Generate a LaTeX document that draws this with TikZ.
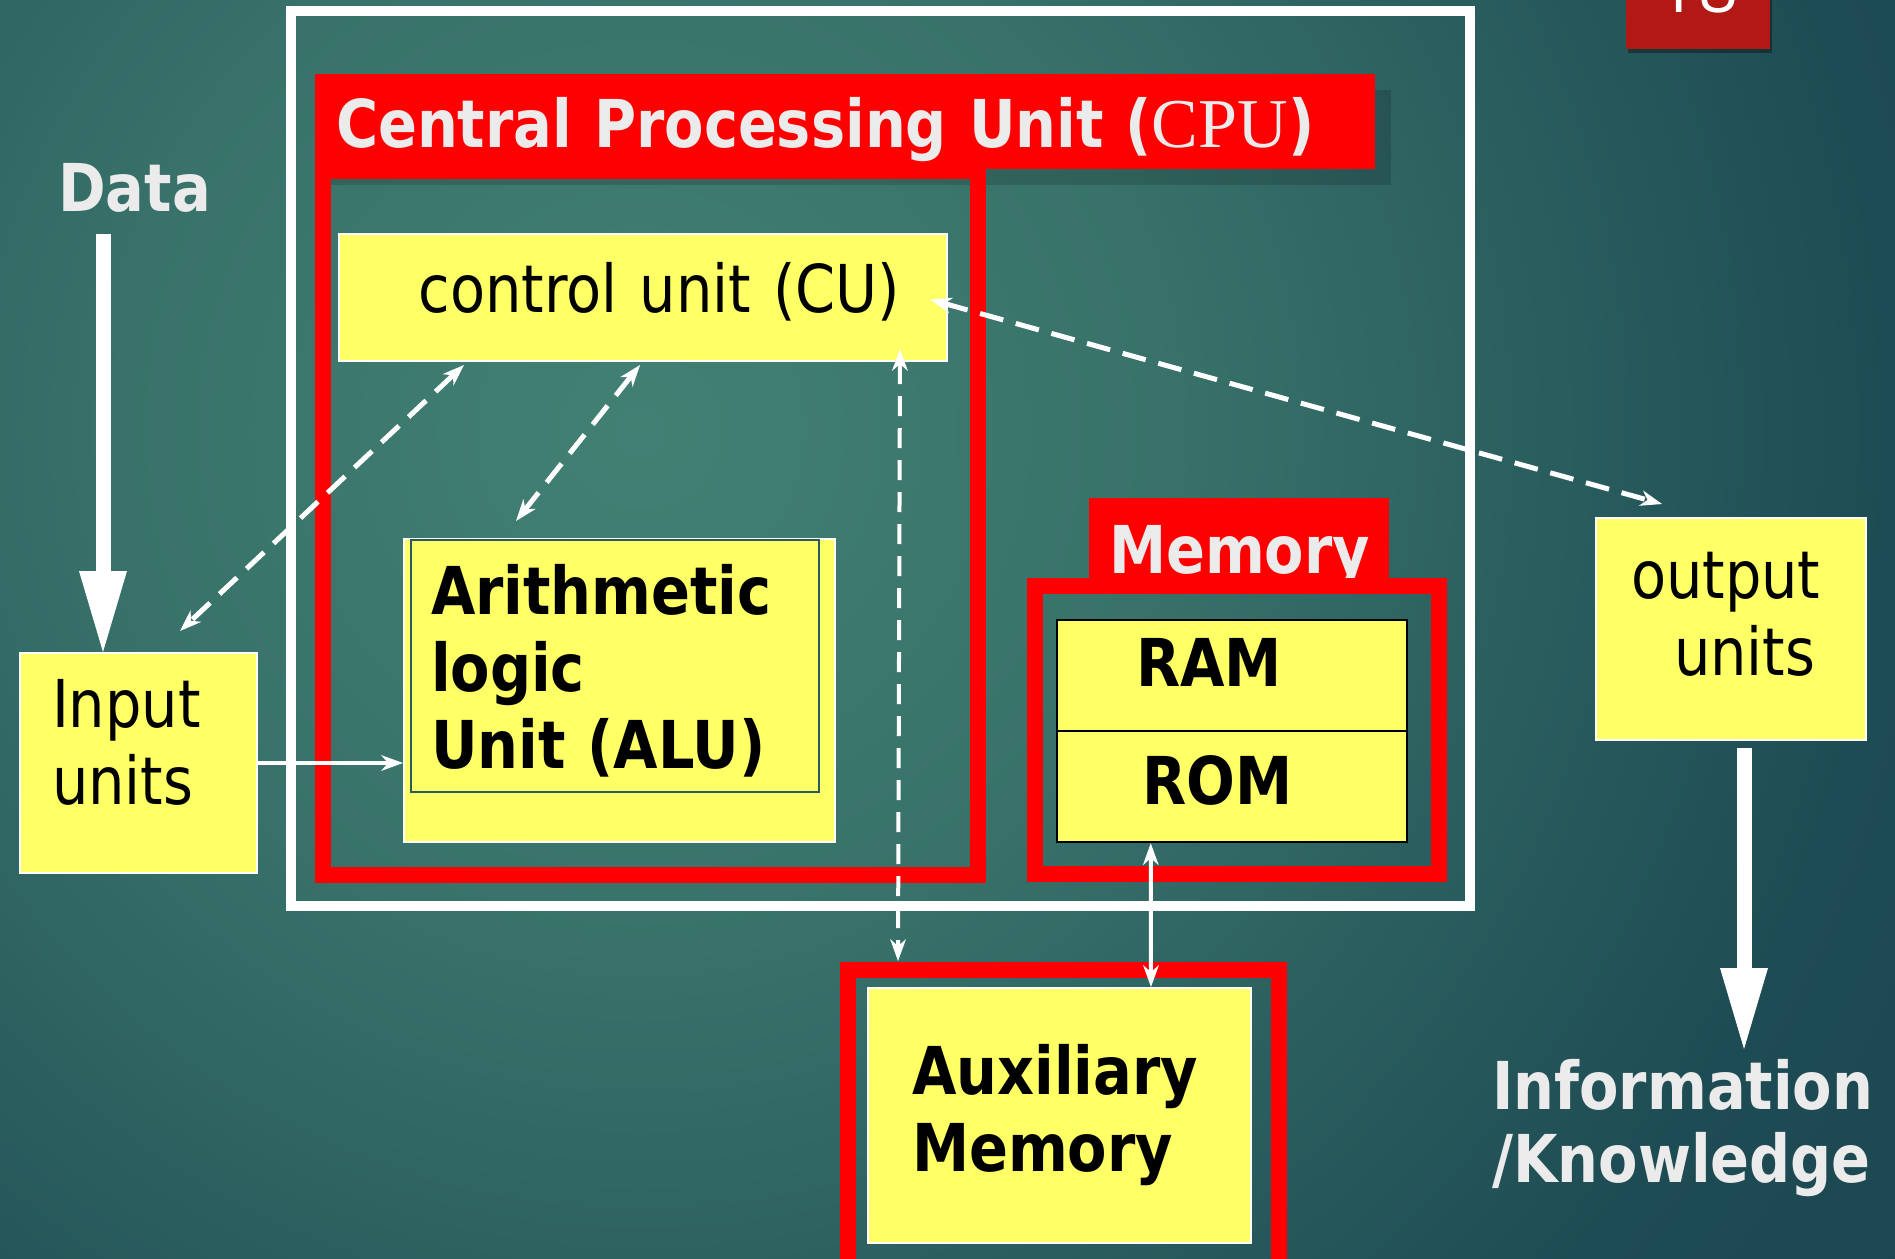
\documentclass[tikz,border=0pt]{standalone}
\usepackage{fontspec}
\setmainfont{DejaVu Sans}[FakeStretch=0.87]
\newfontfamily\cpufont{Liberation Serif}
\newfontfamily\pagefont{Open Sans}
\usetikzlibrary{arrows.meta,calc,shadows}
\definecolor{boxyellow}{RGB}{255, 255, 102}
\definecolor{cpured}{RGB}{255, 0, 0}
\definecolor{pagered}{RGB}{178, 24, 20}
\definecolor{titlegrey}{RGB}{235, 235, 235}
\definecolor{aluline}{RGB}{40, 90, 95}
\definecolor{tealA}{RGB}{66, 128, 116}
\definecolor{tealB}{RGB}{56, 114, 106}
\definecolor{tealC}{RGB}{30, 76, 84}
\definecolor{tealD}{RGB}{17, 52, 67}
\definecolor{tealE}{RGB}{14, 46, 60}
\pgfdeclareradialshading{slide}{\pgfpointorigin}{color(0bp)=(tealA); color(5bp)=(tealB); color(12bp)=(tealC); color(25bp)=(tealD); color(50bp)=(tealE)}
% slide text size with a narrower word space
\newcommand\slidesize[1]{\fontsize{66}{#1}\selectfont\fontdimen2\font=12.5pt\relax}

\begin{document}
\begin{tikzpicture}[x=1pt, y=-1pt,
  font=\slidesize{77},
  >={Stealth[length=22pt, width=16pt, inset=7pt, line width=0pt]},
  box/.style={draw=white, line width=2pt, fill=boxyellow, inner ysep=0pt, text height=60pt, align=left},
  bold box/.style={box, font=\bfseries\slidesize{77}},
  banner/.style={fill=cpured, text=titlegrey, inner ysep=0pt, text height=60pt, align=left, font=\bfseries\slidesize{77}},
  cell/.style={bold box, draw=black, line width=2.5pt, minimum width=350pt, minimum height=111pt},
  redframe/.style={draw=cpured, line width=16pt},
  bigarrow/.style={draw=white, line width=15pt, -{Triangle[length=81pt, width=48pt, line width=0pt]}},
  link/.style={draw=white, line width=4pt},
  dashlink/.style={link, line width=5pt, dash pattern=on 24pt off 13pt},
  title/.style={text=titlegrey, inner sep=0pt, font=\bfseries\slidesize{73}}]
\useasboundingbox (0,0) rectangle (1895,1258);

% Slide background
\begin{scope}
\clip (0,0) rectangle (1895,1258);
\shade[shading=slide] (640,430) circle [radius=2600pt];
\end{scope}

% Page number
\node[fill=pagered, text=white, font=\fontsize{70}{80}\pagefont, minimum width=144pt, inner ysep=36pt,
  text height=60pt, text depth=0pt, anchor=south,
  drop shadow={opacity=.35, shadow xshift=2pt, shadow yshift=-4pt, fill=black}] (page) at (1698,49) {18};

% Computer frame
\draw[white, line width=10pt] (291,11) rectangle (1470,906);

% CPU banner and frame
\node[banner, minimum width=1060pt, minimum height=95pt, text width=1018pt, inner xsep=21pt, text depth=9pt,
  drop shadow={opacity=.15, shadow xshift=16pt, shadow yshift=-16pt, fill=black}] (cpu) at (845,121.5)
  {Central Processing Unit ({\fontsize{70}{77}\cpufont\mdseries CPU})};
\draw[redframe] (323,171) rectangle (978,875);

% Memory banner and frames
\node[banner, minimum width=300pt, minimum height=96pt, text width=260pt, inner xsep=20pt, text depth=6pt] (mem) at (1239,546) {Memory};
\draw[redframe] (1035,586) rectangle (1439,874);
\draw[redframe] (848,970) rectangle (1279,1290);

% Units
\node[box, minimum width=608pt, minimum height=127pt, text width=514pt, inner xsep=47pt, align=right, text depth=31pt] (cu) at (643,297.5) {control unit (CU)};
\node[box, minimum width=431pt, minimum height=303pt] (alubox) at (619.5,690.5) {};
\node[bold box, draw=aluline, line width=1.5pt, minimum width=408pt, minimum height=252pt, text width=368pt, inner xsep=20pt, text depth=164pt] (alu) at (615,666) {Arithmetic\\logic\\Unit (ALU)};
\node[box, minimum width=237pt, minimum height=220pt, text width=173pt, inner xsep=32pt, text depth=132pt] (input) at (138.5,763) {Input\\units};
\node[box, minimum width=270pt, minimum height=222pt, text width=200pt, inner xsep=35pt, text depth=122pt] (output) at (1731,629) {output\\\hspace*{43pt}units};
\node[cell, text width=192pt, inner xsep=79pt, text depth=39pt] (ram) at (1232,675.5) {RAM};
\node[cell, text width=180pt, inner xsep=85pt, text depth=25pt] (rom) at (1232,786.5) {ROM};
\node[bold box, minimum width=383pt, minimum height=255pt, text width=295pt, inner xsep=44pt, text depth=103pt] (aux) at (1059.5,1115.5) {Auxiliary\\Memory};

% Free texts
\node[title, anchor=base west] (data) at (58,211) {Data};
\node[title, anchor=base west, text width=400pt, align=left] (info) at (1492,1109) {Information\\/Knowledge};

% Data in, information out
\coordinate (datatip) at (103,652);
\coordinate (infotip) at (1744,1049);
\draw[bigarrow, shorten <=22pt] (data.south -| datatip) -- (datatip);
\draw[bigarrow, shorten <=7pt] (output.south -| infotip) -- (infotip);

% Dashed links of the control unit
\draw[dashlink, <->] ($(cu.south west)+(126,3)$) -- ($(input.north west)+(161,-21)$);
\draw[dashlink, <->] ($(cu.south west)+(302,3)$) -- ($(alubox.north west)+(113,-17)$);
\draw[dashlink, <->, line width=4pt, dash pattern=on 20pt off 12pt] ($(cu.south east)+(-48,-13)$) -- ($(aux.north west)+(31,-26)$);
\draw[dashlink, <->] ($(cu.east)+(-18,2)$) -- ($(output.north west)+(67,-13)$);

% Solid links
\draw[link, ->] (input.east) -- (input.east -| alubox.west);
\draw[link, <->] ($(rom.south west)+(95,0)$) -- ($(aux.north west)+(284,0)$);
\end{tikzpicture}
\end{document}
